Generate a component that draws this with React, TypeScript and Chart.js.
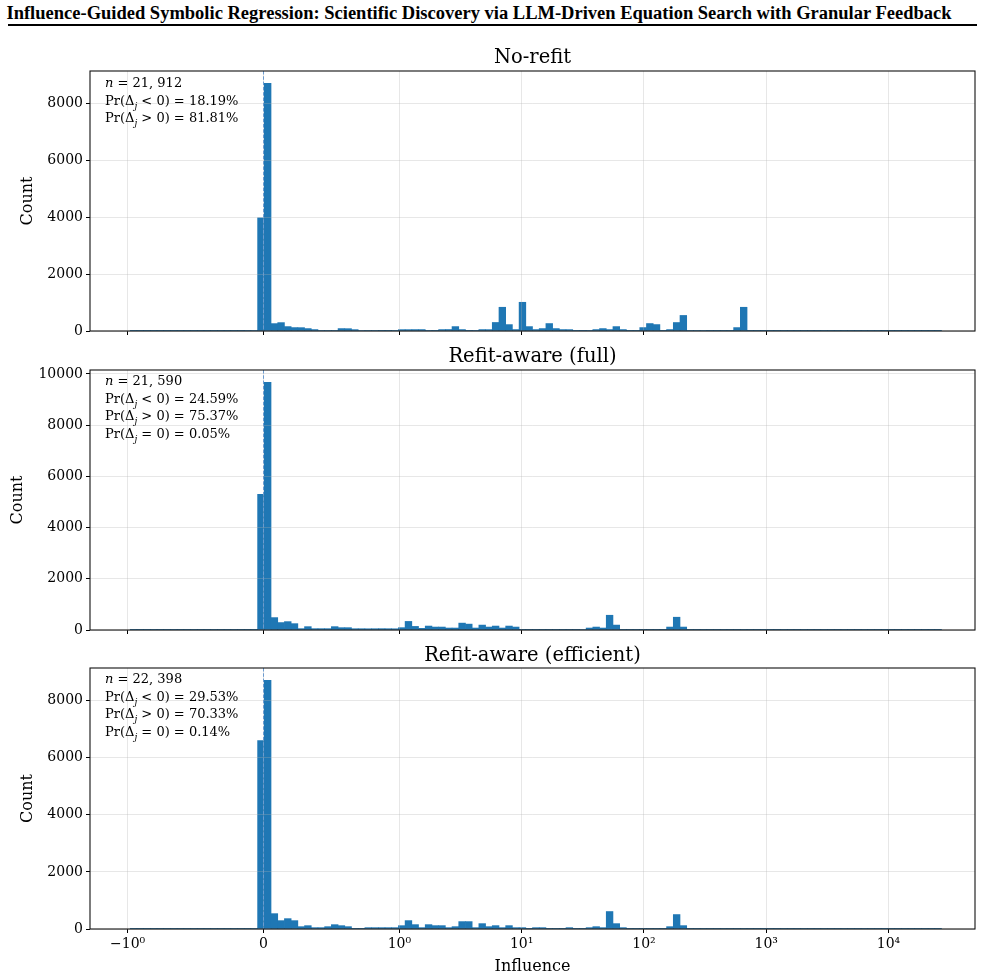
import React, { useEffect, useRef } from 'react';
import { Chart, registerables } from 'chart.js';

Chart.register(...registerables);

// ---------- data ----------
// Histogram bins are uniform in symlog(base 10, linthresh 1) space.
const N_BINS = 120;
const T_MIN = -1.09; // symlog-transformed left edge of first bin
const BIN_W = 0.05483; // bin width in symlog space

const X_TICK_VALUES = [-1, 0, 1, 10, 100, 1000, 10000];
const X_TICK_LABELS = ['−10⁰', '0', '10⁰', '10¹', '10²', '10³', '10⁴'];

const PANEL_TITLES = ['No-refit', 'Refit-aware (full)', 'Refit-aware (efficient)'];
const ANN_N = ['21, 912', '21, 590', '22, 398'];
const ANN_NEG = ['18.19%', '24.59%', '29.53%'];
const ANN_POS = ['81.81%', '75.37%', '70.33%'];
const ANN_ZERO = ['', '0.05%', '0.14%'];

const Y_TICKS_1 = [0, 2000, 4000, 6000, 8000];
const Y_TICKS_2 = [0, 2000, 4000, 6000, 8000, 10000];
const Y_TICKS_3 = [0, 2000, 4000, 6000, 8000];

// counts per bin (120 bins, left to right)
const COUNTS_NO_REFIT = [
  2, 1, 1, 2, 1, 1, 2, 1, 2, 3, 2, 3, 4, 5, 6, 8, 10, 14, 20,
  3980, 8710, 260, 295, 155, 120, 118, 85, 50, 20, 15,
  15, 85, 82, 48, 18, 15, 15, 6, 6, 15,
  48, 48, 50, 50, 14, 12, 50, 52, 155, 50,
  12, 14, 50, 48, 300, 835, 225, 50, 1010, 155,
  50, 85, 262, 85, 50, 48, 12, 12, 14, 50,
  85, 50, 155, 50, 12, 12, 120, 262, 226, 12,
  50, 298, 547, 15, 15, 15, 5, 4, 3, 4,
  120, 835, 4, 3, 3, 2, 3, 2, 2, 3,
  2, 2, 3, 2, 2, 2, 3, 2, 2, 2,
  2, 3, 2, 2, 2, 2, 2, 2, 2, 2, 2,
];

const COUNTS_FULL = [
  2, 1, 1, 1, 2, 1, 1, 2, 1, 2, 2, 3, 3, 4, 5, 6, 8, 10, 14,
  5300, 9670, 484, 290, 327, 248, 52, 131, 52, 52, 52,
  131, 91, 91, 50, 50, 48, 50, 52, 50, 48,
  91, 335, 140, 64, 154, 115, 115, 77, 77, 269,
  230, 77, 192, 115, 154, 77, 154, 115, 12, 10,
  8, 10, 6, 5, 8, 10, 12, 20, 77, 115,
  77, 576, 192, 5, 4, 3, 3, 4, 6, 10,
  115, 499, 115, 4, 3, 3, 2, 3, 2, 2,
  3, 2, 2, 2, 3, 2, 2, 2, 2, 2,
  2, 2, 2, 2, 2, 2, 2, 2, 2, 2,
  2, 2, 2, 2, 2, 2, 2, 2, 2, 2, 2,
];

const COUNTS_EFFICIENT = [
  2, 1, 1, 2, 1, 1, 1, 2, 1, 2, 2, 3, 3, 4, 5, 6, 8, 10, 14,
  6600, 8710, 538, 293, 363, 293, 82, 117, 47, 47, 82,
  152, 117, 82, 5, 5, 47, 47, 47, 47, 47,
  117, 294, 153, 47, 153, 118, 118, 47, 82, 259,
  259, 47, 188, 82, 118, 47, 118, 47, 47, 5,
  47, 47, 5, 5, 5, 47, 5, 5, 47, 82,
  47, 612, 188, 47, 5, 5, 5, 5, 5, 5,
  82, 506, 118, 4, 3, 3, 2, 3, 2, 2,
  3, 2, 2, 2, 3, 2, 2, 2, 2, 2,
  2, 2, 2, 2, 2, 2, 2, 2, 2, 2,
  2, 2, 2, 2, 2, 2, 2, 2, 2, 2, 2,
];

// ---------- helpers ----------
const LIN_ADJ = 1 / (1 - 1 / 10);
function symlog(v: number): number {
  const a = Math.abs(v);
  if (a <= 1) return v * LIN_ADJ;
  return Math.sign(v) * (LIN_ADJ + Math.log10(a));
}

const T_MAX = T_MIN + N_BINS * BIN_W;
const MARGIN = (T_MAX - T_MIN) * 0.05;
const X_MIN = T_MIN - MARGIN;
const X_MAX = T_MAX + MARGIN;

const SERIF = "'DejaVu Serif', serif";
const GRID = 'rgba(176,176,176,0.3)';
const BAR = '#1f77b4';

const framePlugin = {
  id: 'frameAndZero',
  afterDraw(chart: any) {
    const { ctx, chartArea } = chart;
    const xs = chart.scales.x;
    ctx.save();
    // dashed zero line
    const x0 = xs.getPixelForValue(0);
    ctx.strokeStyle = '#6c9bcf';
    ctx.lineWidth = 1;
    ctx.setLineDash([3.5, 1.8]);
    ctx.beginPath();
    ctx.moveTo(x0, chartArea.top);
    ctx.lineTo(x0, chartArea.bottom);
    ctx.stroke();
    ctx.setLineDash([]);
    // frame
    ctx.strokeStyle = '#111';
    ctx.lineWidth = 1.1;
    ctx.strokeRect(chartArea.left, chartArea.top, chartArea.right - chartArea.left, chartArea.bottom - chartArea.top);
    ctx.restore();
  },
};

type PanelCfg = {
  counts: number[];
  yTicks: number[];
  top: number;
  height: number;
  padTop: number;
  xAxisH: number;
  showX: boolean;
  yTitlePad: number;
};

function Panel({ cfg }: { cfg: PanelCfg }) {
  const ref = useRef<HTMLCanvasElement>(null);
  useEffect(() => {
    if (!ref.current) return;
    const maxCount = Math.max(...cfg.counts);
    const data = cfg.counts.map((c, i) => ({ x: T_MIN + (i + 0.5) * BIN_W, y: c }));
    const xTickT = X_TICK_VALUES.map(symlog);
    const chart = new Chart(ref.current, {
      type: 'bar',
      data: {
        datasets: [
          {
            data: data as any,
            backgroundColor: BAR,
            borderWidth: 0,
            barPercentage: 1,
            categoryPercentage: 1,
          },
        ],
      },
      options: {
        responsive: false,
        animation: false,
        layout: { autoPadding: false, padding: { left: 0, right: 10, top: cfg.padTop, bottom: 0 } },
        plugins: {
          legend: { display: false },
          tooltip: { enabled: false },
          title: { display: false },
        },
        scales: {
          x: {
            type: 'linear',
            min: X_MIN,
            max: X_MAX,
            offset: false,
            afterBuildTicks: (s: any) => {
              s.ticks = xTickT.map((v) => ({ value: v }));
            },
            afterFit: (s: any) => {
              s.height = cfg.xAxisH;
            },
            ticks: {
              display: cfg.showX,
              autoSkip: false,
              maxRotation: 0,
              padding: 3,
              color: '#000',
              font: { family: SERIF, size: 14 },
              callback: (_v: any, i: number) => X_TICK_LABELS[i],
            },
            grid: { color: GRID, z: 1, tickColor: '#000', tickLength: 4, offset: false, lineWidth: 1 },
            border: { display: false },
            title: {
              display: cfg.showX,
              text: 'Influence',
              color: '#000',
              font: { family: SERIF, size: 16, lineHeight: 1.2 },
              padding: { top: 0, bottom: 1 },
            },
          },
          y: {
            type: 'linear',
            min: 0,
            max: maxCount * 1.05,
            afterBuildTicks: (s: any) => {
              s.ticks = cfg.yTicks.map((v) => ({ value: v }));
            },
            afterFit: (s: any) => {
              s.width = 90;
            },
            ticks: {
              padding: 3,
              color: '#000',
              font: { family: SERIF, size: 14 },
              callback: (v: any) => String(v),
            },
            grid: { color: GRID, z: 1, tickColor: '#000', tickLength: 4, lineWidth: 1 },
            border: { display: false },
            title: {
              display: true,
              text: 'Count',
              color: '#000',
              font: { family: SERIF, size: 16, lineHeight: 1.2 },
              padding: { top: cfg.yTitlePad, bottom: 0 },
            },
          },
        },
      } as any,
      plugins: [framePlugin],
    });
    return () => chart.destroy();
  }, []);
  return (
    <canvas
      ref={ref}
      width={985}
      height={cfg.height}
      style={{ position: 'absolute', left: 0, top: cfg.top, width: 985, height: cfg.height }}
    />
  );
}

const PANELS: PanelCfg[] = [
  { counts: COUNTS_NO_REFIT, yTicks: Y_TICKS_1, top: 40, height: 303, padTop: 31, xAxisH: 12, showX: false, yTitlePad: 18 },
  { counts: COUNTS_FULL, yTicks: Y_TICKS_2, top: 340, height: 302, padTop: 30, xAxisH: 12, showX: false, yTitlePad: 8 },
  { counts: COUNTS_EFFICIENT, yTicks: Y_TICKS_3, top: 640, height: 337, padTop: 28, xAxisH: 48, showX: true, yTitlePad: 18 },
];

const TITLE_CENTERS = [57, 356, 655];
const ANN_TOPS = [74, 372, 670];

export default function App() {
  return (
    <div style={{ position: 'absolute', left: 0, top: 0, width: 985, height: 977, background: '#fff', overflow: 'hidden' }}>
      <div
        style={{
          position: 'absolute',
          left: 0,
          top: 3,
          width: 958,
          textAlign: 'center',
          fontFamily: "'Liberation Serif', 'Times New Roman', serif",
          fontWeight: 'bold',
          fontSize: 18.5,
          lineHeight: '20px',
          color: '#000',
          whiteSpace: 'nowrap',
        }}
      >
        Influence-Guided Symbolic Regression: Scientific Discovery via LLM-Driven Equation Search with Granular Feedback
      </div>
      <div style={{ position: 'absolute', left: 8, top: 24, width: 969, height: 2, background: '#000' }} />
      {PANELS.map((p, i) => (
        <Panel key={i} cfg={p} />
      ))}
      {PANEL_TITLES.map((t, i) => (
        <div
          key={'t' + i}
          style={{
            position: 'absolute',
            left: 90,
            width: 885,
            top: TITLE_CENTERS[i] - 11,
            lineHeight: '22px',
            textAlign: 'center',
            fontFamily: SERIF,
            fontSize: 19.5,
            color: '#000',
          }}
        >
          {t}
        </div>
      ))}
      {ANN_N.map((n, i) => (
        <div
          key={'a' + i}
          style={{
            position: 'absolute',
            left: 105,
            top: ANN_TOPS[i],
            fontFamily: SERIF,
            fontSize: 13,
            lineHeight: '17.5px',
            color: '#000',
            whiteSpace: 'nowrap',
          }}
        >
          <div>
            <i>n</i> = {n}
          </div>
          <div>
            Pr(Δ<sub style={{ fontSize: 9, fontStyle: 'italic', lineHeight: 0 }}>j</sub> &lt; 0) = {ANN_NEG[i]}
          </div>
          <div>
            Pr(Δ<sub style={{ fontSize: 9, fontStyle: 'italic', lineHeight: 0 }}>j</sub> &gt; 0) = {ANN_POS[i]}
          </div>
          {ANN_ZERO[i] ? (
            <div>
              Pr(Δ<sub style={{ fontSize: 9, fontStyle: 'italic', lineHeight: 0 }}>j</sub> = 0) = {ANN_ZERO[i]}
            </div>
          ) : null}
        </div>
      ))}
    </div>
  );
}
